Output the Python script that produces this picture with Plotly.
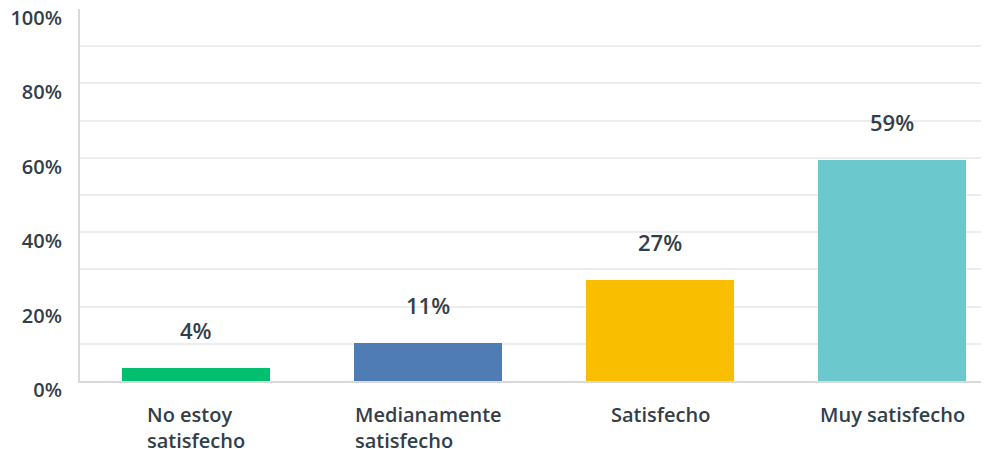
import plotly.graph_objects as go

categories = ["No estoy<br>satisfecho", "Medianamente<br>satisfecho", "Satisfecho", "Muy satisfecho"]
values = [3.4, 10.2, 27.1, 59.3]
value_labels = ["4%", "11%", "27%", "59%"]
colors = ["#00BF6F", "#507CB6", "#F9BE00", "#6BC8CD"]
y_ticks = [0, 10, 20, 30, 40, 50, 60, 70, 80, 90, 100]
y_ticktext = ["0%", "", "20%", "", "40%", "", "60%", "", "80%", "", "100%"]

TEXT = "#333e48"
FONT = "Open Sans"

fig = go.Figure()
fig.add_trace(
    go.Bar(
        x=list(range(len(categories))),
        y=values,
        marker=dict(color=colors, line=dict(width=0)),
        width=0.64,
        hoverinfo="skip",
    )
)

# value labels, floating above each bar
for i, (v, t) in enumerate(zip(values, value_labels)):
    fig.add_annotation(
        x=i, y=v, text=t, showarrow=False, yanchor="middle", yshift=38,
        font=dict(family=FONT, size=22, color=TEXT, weight=600),
    )

# category labels, left aligned lines under each bar
for i, c in enumerate(categories):
    fig.add_annotation(
        x=i, y=0, xref="x", yref="paper", text=c, showarrow=False,
        xanchor="center", yanchor="top", yshift=-18, align="left",
        font=dict(family=FONT, size=20, color=TEXT, weight=600),
    )

# the page adds an 8px body margin, so the figure is sized to fit inside the window
fig.update_layout(
    width=981,
    height=441,
    margin=dict(l=72, r=0, t=1, b=68, autoexpand=False),
    plot_bgcolor="white",
    paper_bgcolor="white",
    showlegend=False,
    bargap=0,
    xaxis=dict(
        range=[-0.5, 3.418],
        showticklabels=False,
        showgrid=False,
        zeroline=False,
        showline=True,
        linecolor="#d9d9d9",
        linewidth=2,
        automargin=False,
        fixedrange=True,
    ),
    yaxis=dict(
        range=[0, 100],
        tickvals=y_ticks,
        ticktext=y_ticktext,
        ticklabelshift=9,
        ticklabelstandoff=12,
        ticklabeloverflow="allow",
        ticks="",
        showgrid=True,
        gridcolor="#ededed",
        gridwidth=2,
        zeroline=False,
        showline=True,
        linecolor="#d9d9d9",
        linewidth=2,
        automargin=False,
        tickfont=dict(family=FONT, size=20, color=TEXT, weight=600),
        fixedrange=True,
    ),
)

fig.write_html("out.html")
